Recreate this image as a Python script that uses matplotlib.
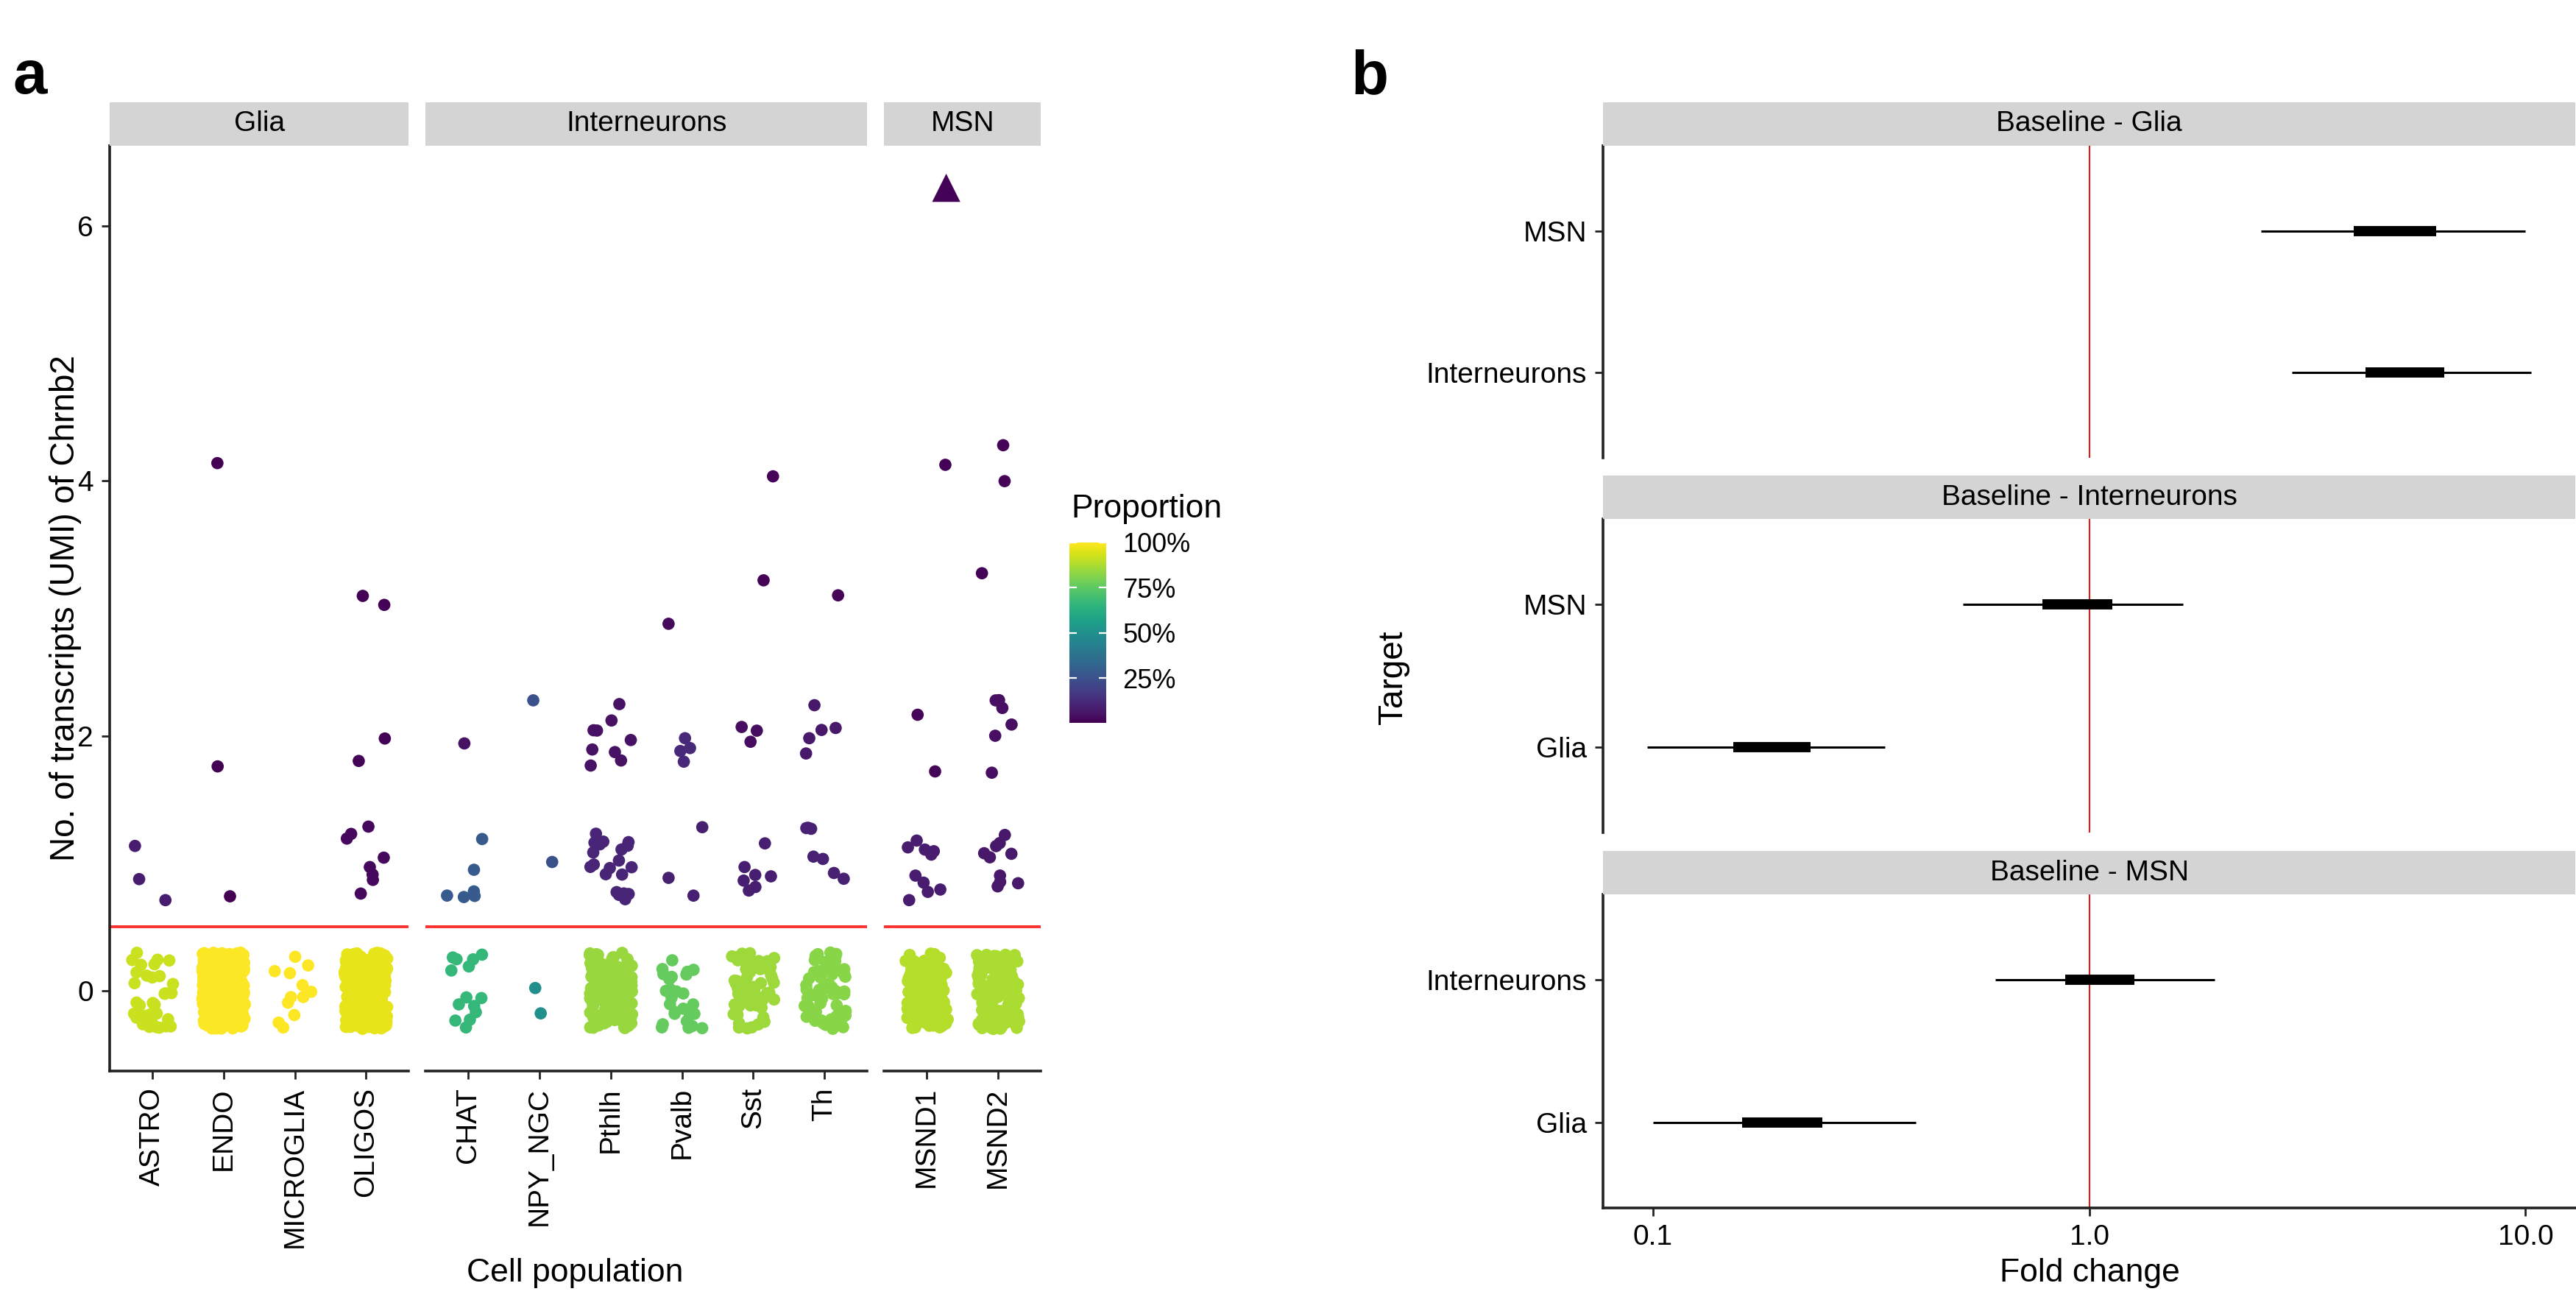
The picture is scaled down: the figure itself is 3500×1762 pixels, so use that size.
import numpy as np
import matplotlib
matplotlib.use("Agg")
import matplotlib.pyplot as plt
from matplotlib import cm, colors

plt.rcParams['font.family'] = ['Liberation Sans', 'DejaVu Sans']

# ---- panel a: number of cells with 0, 1, 2, 3, 4 UMI of Chrnb2 ----
umi_levels = [0, 1, 2, 3, 4]
glia_types = ["ASTRO", "ENDO", "MICROGLIA", "OLIGOS"]
glia_counts = [[35, 3, 0, 0, 0], [420, 1, 1, 0, 1], [12, 0, 0, 0, 0], [300, 8, 2, 2, 0]]
glia_above = [0, 0, 0, 0]
inter_types = ["CHAT", "NPY_NGC", "Pthlh", "Pvalb", "Sst", "Th"]
inter_counts = [[14, 6, 1, 0, 0], [2, 1, 1, 0, 0], [160, 20, 9, 0, 0],
                [26, 3, 4, 1, 0], [70, 7, 3, 1, 1], [60, 7, 5, 1, 0]]
inter_above = [0, 0, 0, 0, 0, 0]
msn_types = ["MSND1", "MSND2"]
msn_counts = [[110, 10, 2, 0, 1], [130, 10, 6, 1, 2]]
msn_above = [1, 0]          # cells above the axis cap, drawn as a triangle
y_cap = 6.3

# ---- panel b: fold change intervals (95% thin, 50% thick) ----
baselines = ["Baseline - Glia", "Baseline - Interneurons", "Baseline - MSN"]
targets = [["Interneurons", "MSN"], ["Glia", "MSN"], ["Glia", "Interneurons"]]
lo95 = [[2.92, 2.48], [0.097, 0.513], [0.100, 0.61]]
lo50 = [[4.30, 4.04], [0.153, 0.78], [0.160, 0.88]]
hi50 = [[6.50, 6.23], [0.230, 1.13], [0.245, 1.27]]
hi95 = [[10.3, 10.0], [0.340, 1.64], [0.400, 1.94]]

facets = [("Glia", glia_types, glia_counts, glia_above),
          ("Interneurons", inter_types, inter_counts, inter_above),
          ("MSN", msn_types, msn_counts, msn_above)]

W, H = 3500, 1762
fig = plt.figure(figsize=(W / 200, H / 200), dpi=200)


def box(x0, y0, x1, y1):
    return fig.add_axes([x0 / W, 1 - y1 / H, (x1 - x0) / W, (y1 - y0) / H])


def strip(x0, y0, x1, y1, label):
    s = box(x0, y0, x1, y1)
    s.set_facecolor('#d4d4d4')
    s.set_xticks([])
    s.set_yticks([])
    for sp in s.spines.values():
        sp.set_visible(False)
    s.text(0.5, 0.5, label, ha='center', va='center', fontsize=14, transform=s.transAxes)


# proportions for colour
props = []
for _, types, counts, above in facets:
    for c, a in zip(counts, above):
        tot = sum(c) + a
        props += [n / tot for n in c + [a] if n > 0]
norm = colors.Normalize(vmin=min(props), vmax=1.0)
cmap = plt.get_cmap('viridis')

rng = np.random.default_rng(11)   # jitter only (like geom_jitter)
axis_col = '#222222'
x0, top, bottom, gap = 149, 198, 1455, 23
unit = (1414 - 149 - 2 * gap) / sum(len(f[1]) + 0.2 for f in facets)
for k, (name, types, counts, above) in enumerate(facets):
    w = unit * (len(types) + 0.2)
    ax = box(x0, top, x0 + w, bottom)
    strip(x0, 139, x0 + w, top, name)
    x0 += w + gap
    for i, (c, a) in enumerate(zip(counts, above)):
        tot = sum(c) + a
        for lev, n in zip(umi_levels, c):
            if n == 0:
                continue
            xs = i + rng.uniform(-0.3, 0.3, n)
            ys = lev + rng.uniform(-0.3, 0.3, n)
            ax.scatter(xs, ys, s=36, color=cmap(norm(n / tot)), edgecolors='none', zorder=3)
        if a > 0:
            ax.scatter(i + rng.uniform(-0.3, 0.3, a), [y_cap] * a, marker='^', s=190,
                       color=cmap(norm(a / tot)), edgecolors='none', zorder=3)
    ax.axhline(0.5, color='#ff3030', lw=1.4, zorder=2)
    ax.set_xlim(-0.6, len(types) - 0.4)
    ax.set_ylim(-0.63, 6.63)
    ax.set_xticks(range(len(types)))
    ax.set_xticklabels(types, rotation=90, fontsize=14)
    for sp in ['top', 'right']:
        ax.spines[sp].set_visible(False)
    ax.spines['bottom'].set_linewidth(1.3)
    ax.spines['bottom'].set_color(axis_col)
    ax.tick_params(axis='both', length=4, width=1.0, color=axis_col, labelsize=14, pad=4)
    if k == 0:
        ax.set_yticks([0, 2, 4, 6])
        ax.spines['left'].set_linewidth(1.3)
        ax.spines['left'].set_color(axis_col)
    else:
        ax.spines['left'].set_visible(False)
        ax.tick_params(axis='y', left=False, labelleft=False)

fig.text(89 / W, 1 - 826 / H, "No. of transcripts (UMI) of Chrnb2", rotation=90,
         ha='center', va='center', fontsize=16.5)
fig.text(781 / W, 1 - 1730 / H, "Cell population", ha='center', va='center', fontsize=16)

# colour bar legend
cax = box(1453, 737, 1503, 982)
sm = cm.ScalarMappable(norm=norm, cmap=cmap)
cb = fig.colorbar(sm, cax=cax)
cb.outline.set_visible(False)
cb.set_ticks([0.25, 0.5, 0.75, 1.0])
cb.set_ticklabels(["25%", "50%", "75%", "100%"])
cax.tick_params(left=True, right=True, direction='in', length=3.5, width=0.8,
                color='white', labelsize=13, pad=8)
fig.text(1455 / W, 1 - 692 / H, "Proportion", ha='left', va='center', fontsize=16)

# ---- panel b ----
fl, fr = 2178, 3499
ys = [(198, 622), (705, 1131), (1215, 1641)]
for k, (base, tg) in enumerate(zip(baselines, targets)):
    y0, y1 = ys[k]
    ax = box(fl, y0, fr, y1)
    strip(fl, y0 - 59, fr, y0, base)
    ax.axvline(1.0, color='#c0282d', lw=0.8, zorder=1)
    for j in range(len(tg)):
        ax.plot([lo95[k][j], hi95[k][j]], [j, j], color='black', lw=1.1,
                solid_capstyle='butt', zorder=2)
        ax.plot([lo50[k][j], hi50[k][j]], [j, j], color='black', lw=5,
                solid_capstyle='butt', zorder=3)
    ax.set_xscale('log')
    ax.set_xlim(0.0769, 13.0)
    ax.set_ylim(-0.6, 1.6)
    ax.set_yticks(range(len(tg)))
    ax.set_yticklabels(tg)
    ax.minorticks_off()
    for sp in ['top', 'right']:
        ax.spines[sp].set_visible(False)
    ax.spines['left'].set_linewidth(1.3)
    ax.spines['left'].set_color(axis_col)
    ax.tick_params(axis='both', length=4, width=1.0, color=axis_col, labelsize=14, pad=4)
    if k == 2:
        ax.set_xticks([0.1, 1.0, 10.0])
        ax.set_xticklabels(["0.1", "1.0", "10.0"])
        ax.spines['bottom'].set_linewidth(1.3)
        ax.spines['bottom'].set_color(axis_col)
    else:
        ax.spines['bottom'].set_visible(False)
        ax.tick_params(axis='x', bottom=False, labelbottom=False)

fig.text(1893 / W, 1 - 920 / H, "Target", rotation=90, ha='center', va='center', fontsize=16.5)
fig.text(2839 / W, 1 - 1730 / H, "Fold change", ha='center', va='center', fontsize=16)

fig.text(18 / W, 1 - 127 / H, "a", fontsize=30, fontweight='bold', ha='left', va='baseline')
fig.text(1835 / W, 1 - 127 / H, "b", fontsize=30, fontweight='bold', ha='left', va='baseline')

fig.savefig('out.png', dpi=200, facecolor='white')
